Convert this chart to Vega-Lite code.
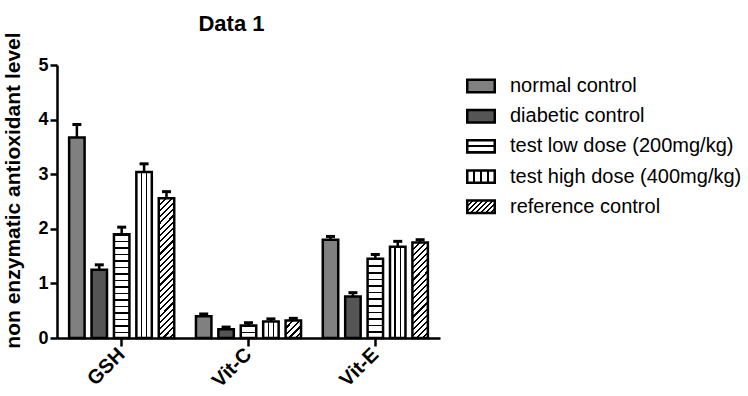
{
  "$schema": "https://vega.github.io/schema/vega-lite/v6.json",
  "width": 383,
  "height": 273,
  "autosize": {"type": "none"},
  "padding": {"left": 57, "top": 65, "right": 308, "bottom": 58},
  "background": "white",
  "config": {"view": {"stroke": null}, "font": "Liberation Sans"},
  "title": {"text": "Data 1", "fontSize": 22, "fontWeight": "bold", "font": "Liberation Sans", "anchor": "middle", "dx": -17, "offset": -4, "color": "black"},
  "data": {"values": [
    {"cat": "GSH", "series": "normal control", "mean": 3.67, "upper": 3.91},
    {"cat": "GSH", "series": "diabetic control", "mean": 1.25, "upper": 1.34},
    {"cat": "GSH", "series": "test low dose (200mg/kg)", "mean": 1.90, "upper": 2.03},
    {"cat": "GSH", "series": "test high dose (400mg/kg)", "mean": 3.04, "upper": 3.19},
    {"cat": "GSH", "series": "reference control", "mean": 2.56, "upper": 2.68},
    {"cat": "Vit-C", "series": "normal control", "mean": 0.40, "upper": 0.44},
    {"cat": "Vit-C", "series": "diabetic control", "mean": 0.16, "upper": 0.20},
    {"cat": "Vit-C", "series": "test low dose (200mg/kg)", "mean": 0.23, "upper": 0.28},
    {"cat": "Vit-C", "series": "test high dose (400mg/kg)", "mean": 0.30, "upper": 0.35},
    {"cat": "Vit-C", "series": "reference control", "mean": 0.32, "upper": 0.36},
    {"cat": "Vit-E", "series": "normal control", "mean": 1.80, "upper": 1.86},
    {"cat": "Vit-E", "series": "diabetic control", "mean": 0.76, "upper": 0.83},
    {"cat": "Vit-E", "series": "test low dose (200mg/kg)", "mean": 1.45, "upper": 1.53},
    {"cat": "Vit-E", "series": "test high dose (400mg/kg)", "mean": 1.67, "upper": 1.77},
    {"cat": "Vit-E", "series": "reference control", "mean": 1.75, "upper": 1.80}
  ]},
  "encoding": {
    "x": {
      "field": "cat", "type": "nominal", "sort": ["GSH", "Vit-C", "Vit-E"],
      "scale": {"paddingInner": 0, "paddingOuter": 0.01},
      "axis": {
        "title": null, "grid": false,
        "domainColor": "black", "domainWidth": 2.5,
        "tickColor": "black", "tickWidth": 2.5, "tickSize": 8,
        "labelAngle": -45, "labelAlign": "right", "labelBaseline": "middle",
        "labelFont": "Liberation Sans", "labelFontSize": 20, "labelFontWeight": "bold", "labelColor": "black", "labelPadding": 5
      }
    },
    "xOffset": {
      "field": "series", "type": "nominal",
      "sort": ["normal control", "diabetic control", "test low dose (200mg/kg)", "test high dose (400mg/kg)", "reference control"],
      "scale": {"paddingInner": 0.31, "paddingOuter": 0.485}
    }
  },
  "layer": [
    {
      "mark": {"type": "bar", "stroke": "black", "strokeWidth": 2.5, "opacity": 1},
      "encoding": {
        "y": {
          "field": "mean", "type": "quantitative", "title": "non enzymatic antioxidant level",
          "scale": {"domain": [0, 5], "nice": false},
          "axis": {
            "values": [0, 1, 2, 3, 4, 5], "grid": false,
            "domainColor": "black", "domainWidth": 2.5,
            "tickColor": "black", "tickWidth": 2.5, "tickSize": 7,
            "labelFont": "Liberation Sans", "labelFontSize": 18, "labelFontWeight": "bold", "labelColor": "black", "labelPadding": 2,
            "labelFlush": false, "labelOverlap": false,
            "titleFont": "Liberation Sans", "titleFontSize": 21, "titleFontWeight": "bold", "titleColor": "black", "titlePadding": 14, "titleY": 125
          }
        },
        "fill": {
          "field": "series", "type": "nominal",
          "scale": {
            "domain": ["normal control", "diabetic control", "test low dose (200mg/kg)", "test high dose (400mg/kg)", "reference control"],
            "range": [
              "#808080",
              "#555555",
              {"expr": "{gradient: 'linear', x1: 0, y1: 0, x2: 0, y2: 1, stops: [{offset: 0, color: '#000'}, {offset: 0.1, color: '#000'}, {offset: 0.1, color: '#fff'}, {offset: 0.4, color: '#fff'}, {offset: 0.4, color: '#000'}, {offset: 0.57, color: '#000'}, {offset: 0.57, color: '#fff'}, {offset: 0.9, color: '#fff'}, {offset: 0.9, color: '#000'}, {offset: 1, color: '#000'}]}"},
              {"expr": "{gradient: 'linear', x1: 0, y1: 0, x2: 1, y2: 0, stops: [{offset: 0, color: '#fff'}, {offset: 0.215, color: '#fff'}, {offset: 0.215, color: '#000'}, {offset: 0.285, color: '#000'}, {offset: 0.285, color: '#fff'}, {offset: 0.465, color: '#fff'}, {offset: 0.465, color: '#000'}, {offset: 0.535, color: '#000'}, {offset: 0.535, color: '#fff'}, {offset: 0.715, color: '#fff'}, {offset: 0.715, color: '#000'}, {offset: 0.785, color: '#000'}, {offset: 0.785, color: '#fff'}, {offset: 1, color: '#fff'}]}"},
              {"expr": "{gradient: 'linear', x1: 0, y1: 0, x2: 1.2055, y2: 0.548, stops: [{offset: 0, color: '#000'}, {offset: 0.044, color: '#000'}, {offset: 0.044, color: '#fff'}, {offset: 0.125, color: '#fff'}, {offset: 0.125, color: '#000'}, {offset: 0.169, color: '#000'}, {offset: 0.169, color: '#fff'}, {offset: 0.25, color: '#fff'}, {offset: 0.25, color: '#000'}, {offset: 0.294, color: '#000'}, {offset: 0.294, color: '#fff'}, {offset: 0.375, color: '#fff'}, {offset: 0.375, color: '#000'}, {offset: 0.419, color: '#000'}, {offset: 0.419, color: '#fff'}, {offset: 0.5, color: '#fff'}, {offset: 0.5, color: '#000'}, {offset: 0.544, color: '#000'}, {offset: 0.544, color: '#fff'}, {offset: 0.625, color: '#fff'}, {offset: 0.625, color: '#000'}, {offset: 0.669, color: '#000'}, {offset: 0.669, color: '#fff'}, {offset: 0.75, color: '#fff'}, {offset: 0.75, color: '#000'}, {offset: 0.794, color: '#000'}, {offset: 0.794, color: '#fff'}, {offset: 0.875, color: '#fff'}, {offset: 0.875, color: '#000'}, {offset: 0.919, color: '#000'}, {offset: 0.919, color: '#fff'}, {offset: 1, color: '#fff'}]}"}
            ]
          },
          "legend": {
            "title": null, "orient": "none", "legendX": 409, "legendY": 6, "padding": 0,
            "symbolType": "M-1,-0.45H1V0.45H-1Z", "symbolSize": 756,
            "symbolStrokeWidth": 2.5, "symbolOpacity": 1,
            "labelFont": "Liberation Sans", "labelFontSize": 20, "labelColor": "black", "labelLimit": 400,
            "labelOffset": 14, "rowPadding": 3.2
          },
          "condition": [
            {"test": "datum.series === 'test low dose (200mg/kg)' && datum.cat === 'GSH'",
             "value": {"gradient": "linear", "x1": 0, "y1": 0, "x2": 0, "y2": 1, "stops": [
              {"offset": 0, "color": "#000"}, {"offset": 0.015, "color": "#000"}, {"offset": 0.015, "color": "#fff"}, {"offset": 0.0625, "color": "#fff"},
              {"offset": 0.0625, "color": "#000"}, {"offset": 0.0775, "color": "#000"}, {"offset": 0.0775, "color": "#fff"}, {"offset": 0.125, "color": "#fff"},
              {"offset": 0.125, "color": "#000"}, {"offset": 0.14, "color": "#000"}, {"offset": 0.14, "color": "#fff"}, {"offset": 0.1875, "color": "#fff"},
              {"offset": 0.1875, "color": "#000"}, {"offset": 0.2025, "color": "#000"}, {"offset": 0.2025, "color": "#fff"}, {"offset": 0.25, "color": "#fff"},
              {"offset": 0.25, "color": "#000"}, {"offset": 0.265, "color": "#000"}, {"offset": 0.265, "color": "#fff"}, {"offset": 0.3125, "color": "#fff"},
              {"offset": 0.3125, "color": "#000"}, {"offset": 0.3275, "color": "#000"}, {"offset": 0.3275, "color": "#fff"}, {"offset": 0.375, "color": "#fff"},
              {"offset": 0.375, "color": "#000"}, {"offset": 0.39, "color": "#000"}, {"offset": 0.39, "color": "#fff"}, {"offset": 0.4375, "color": "#fff"},
              {"offset": 0.4375, "color": "#000"}, {"offset": 0.4525, "color": "#000"}, {"offset": 0.4525, "color": "#fff"}, {"offset": 0.5, "color": "#fff"},
              {"offset": 0.5, "color": "#000"}, {"offset": 0.515, "color": "#000"}, {"offset": 0.515, "color": "#fff"}, {"offset": 0.5625, "color": "#fff"},
              {"offset": 0.5625, "color": "#000"}, {"offset": 0.5775, "color": "#000"}, {"offset": 0.5775, "color": "#fff"}, {"offset": 0.625, "color": "#fff"},
              {"offset": 0.625, "color": "#000"}, {"offset": 0.64, "color": "#000"}, {"offset": 0.64, "color": "#fff"}, {"offset": 0.6875, "color": "#fff"},
              {"offset": 0.6875, "color": "#000"}, {"offset": 0.7025, "color": "#000"}, {"offset": 0.7025, "color": "#fff"}, {"offset": 0.75, "color": "#fff"},
              {"offset": 0.75, "color": "#000"}, {"offset": 0.765, "color": "#000"}, {"offset": 0.765, "color": "#fff"}, {"offset": 0.8125, "color": "#fff"},
              {"offset": 0.8125, "color": "#000"}, {"offset": 0.8275, "color": "#000"}, {"offset": 0.8275, "color": "#fff"}, {"offset": 0.875, "color": "#fff"},
              {"offset": 0.875, "color": "#000"}, {"offset": 0.89, "color": "#000"}, {"offset": 0.89, "color": "#fff"}, {"offset": 0.9375, "color": "#fff"},
              {"offset": 0.9375, "color": "#000"}, {"offset": 0.9525, "color": "#000"}, {"offset": 0.9525, "color": "#fff"}, {"offset": 1, "color": "#fff"}]}},
            {"test": "datum.series === 'test low dose (200mg/kg)' && datum.cat === 'Vit-C'",
             "value": {"gradient": "linear", "x1": 0, "y1": 0, "x2": 0, "y2": 1, "stops": [
              {"offset": 0, "color": "#000"}, {"offset": 0.12, "color": "#000"}, {"offset": 0.12, "color": "#fff"}, {"offset": 0.5, "color": "#fff"},
              {"offset": 0.5, "color": "#000"}, {"offset": 0.62, "color": "#000"}, {"offset": 0.62, "color": "#fff"}, {"offset": 1, "color": "#fff"}]}},
            {"test": "datum.series === 'test low dose (200mg/kg)' && datum.cat === 'Vit-E'",
             "value": {"gradient": "linear", "x1": 0, "y1": 0, "x2": 0, "y2": 1, "stops": [
              {"offset": 0, "color": "#000"}, {"offset": 0.019, "color": "#000"}, {"offset": 0.019, "color": "#fff"}, {"offset": 0.0833, "color": "#fff"},
              {"offset": 0.0833, "color": "#000"}, {"offset": 0.1023, "color": "#000"}, {"offset": 0.1023, "color": "#fff"}, {"offset": 0.1667, "color": "#fff"},
              {"offset": 0.1667, "color": "#000"}, {"offset": 0.1857, "color": "#000"}, {"offset": 0.1857, "color": "#fff"}, {"offset": 0.25, "color": "#fff"},
              {"offset": 0.25, "color": "#000"}, {"offset": 0.269, "color": "#000"}, {"offset": 0.269, "color": "#fff"}, {"offset": 0.3333, "color": "#fff"},
              {"offset": 0.3333, "color": "#000"}, {"offset": 0.3523, "color": "#000"}, {"offset": 0.3523, "color": "#fff"}, {"offset": 0.4167, "color": "#fff"},
              {"offset": 0.4167, "color": "#000"}, {"offset": 0.4357, "color": "#000"}, {"offset": 0.4357, "color": "#fff"}, {"offset": 0.5, "color": "#fff"},
              {"offset": 0.5, "color": "#000"}, {"offset": 0.519, "color": "#000"}, {"offset": 0.519, "color": "#fff"}, {"offset": 0.5833, "color": "#fff"},
              {"offset": 0.5833, "color": "#000"}, {"offset": 0.6023, "color": "#000"}, {"offset": 0.6023, "color": "#fff"}, {"offset": 0.6667, "color": "#fff"},
              {"offset": 0.6667, "color": "#000"}, {"offset": 0.6857, "color": "#000"}, {"offset": 0.6857, "color": "#fff"}, {"offset": 0.75, "color": "#fff"},
              {"offset": 0.75, "color": "#000"}, {"offset": 0.769, "color": "#000"}, {"offset": 0.769, "color": "#fff"}, {"offset": 0.8333, "color": "#fff"},
              {"offset": 0.8333, "color": "#000"}, {"offset": 0.8523, "color": "#000"}, {"offset": 0.8523, "color": "#fff"}, {"offset": 0.9167, "color": "#fff"},
              {"offset": 0.9167, "color": "#000"}, {"offset": 0.9357, "color": "#000"}, {"offset": 0.9357, "color": "#fff"}, {"offset": 1, "color": "#fff"}]}},
            {"test": "datum.series === 'reference control' && datum.cat === 'GSH'",
             "value": {"gradient": "linear", "x1": 0, "y1": 0, "x2": 0.122, "y2": 1.0976, "stops": [
              {"offset": 0, "color": "#000"}, {"offset": 0.014, "color": "#000"}, {"offset": 0.014, "color": "#fff"}, {"offset": 0.04, "color": "#fff"},
              {"offset": 0.04, "color": "#000"}, {"offset": 0.054, "color": "#000"}, {"offset": 0.054, "color": "#fff"}, {"offset": 0.08, "color": "#fff"},
              {"offset": 0.08, "color": "#000"}, {"offset": 0.094, "color": "#000"}, {"offset": 0.094, "color": "#fff"}, {"offset": 0.12, "color": "#fff"},
              {"offset": 0.12, "color": "#000"}, {"offset": 0.134, "color": "#000"}, {"offset": 0.134, "color": "#fff"}, {"offset": 0.16, "color": "#fff"},
              {"offset": 0.16, "color": "#000"}, {"offset": 0.174, "color": "#000"}, {"offset": 0.174, "color": "#fff"}, {"offset": 0.2, "color": "#fff"},
              {"offset": 0.2, "color": "#000"}, {"offset": 0.214, "color": "#000"}, {"offset": 0.214, "color": "#fff"}, {"offset": 0.24, "color": "#fff"},
              {"offset": 0.24, "color": "#000"}, {"offset": 0.254, "color": "#000"}, {"offset": 0.254, "color": "#fff"}, {"offset": 0.28, "color": "#fff"},
              {"offset": 0.28, "color": "#000"}, {"offset": 0.294, "color": "#000"}, {"offset": 0.294, "color": "#fff"}, {"offset": 0.32, "color": "#fff"},
              {"offset": 0.32, "color": "#000"}, {"offset": 0.334, "color": "#000"}, {"offset": 0.334, "color": "#fff"}, {"offset": 0.36, "color": "#fff"},
              {"offset": 0.36, "color": "#000"}, {"offset": 0.374, "color": "#000"}, {"offset": 0.374, "color": "#fff"}, {"offset": 0.4, "color": "#fff"},
              {"offset": 0.4, "color": "#000"}, {"offset": 0.414, "color": "#000"}, {"offset": 0.414, "color": "#fff"}, {"offset": 0.44, "color": "#fff"},
              {"offset": 0.44, "color": "#000"}, {"offset": 0.454, "color": "#000"}, {"offset": 0.454, "color": "#fff"}, {"offset": 0.48, "color": "#fff"},
              {"offset": 0.48, "color": "#000"}, {"offset": 0.494, "color": "#000"}, {"offset": 0.494, "color": "#fff"}, {"offset": 0.52, "color": "#fff"},
              {"offset": 0.52, "color": "#000"}, {"offset": 0.534, "color": "#000"}, {"offset": 0.534, "color": "#fff"}, {"offset": 0.56, "color": "#fff"},
              {"offset": 0.56, "color": "#000"}, {"offset": 0.574, "color": "#000"}, {"offset": 0.574, "color": "#fff"}, {"offset": 0.6, "color": "#fff"},
              {"offset": 0.6, "color": "#000"}, {"offset": 0.614, "color": "#000"}, {"offset": 0.614, "color": "#fff"}, {"offset": 0.64, "color": "#fff"},
              {"offset": 0.64, "color": "#000"}, {"offset": 0.654, "color": "#000"}, {"offset": 0.654, "color": "#fff"}, {"offset": 0.68, "color": "#fff"},
              {"offset": 0.68, "color": "#000"}, {"offset": 0.694, "color": "#000"}, {"offset": 0.694, "color": "#fff"}, {"offset": 0.72, "color": "#fff"},
              {"offset": 0.72, "color": "#000"}, {"offset": 0.734, "color": "#000"}, {"offset": 0.734, "color": "#fff"}, {"offset": 0.76, "color": "#fff"},
              {"offset": 0.76, "color": "#000"}, {"offset": 0.774, "color": "#000"}, {"offset": 0.774, "color": "#fff"}, {"offset": 0.8, "color": "#fff"},
              {"offset": 0.8, "color": "#000"}, {"offset": 0.814, "color": "#000"}, {"offset": 0.814, "color": "#fff"}, {"offset": 0.84, "color": "#fff"},
              {"offset": 0.84, "color": "#000"}, {"offset": 0.854, "color": "#000"}, {"offset": 0.854, "color": "#fff"}, {"offset": 0.88, "color": "#fff"},
              {"offset": 0.88, "color": "#000"}, {"offset": 0.894, "color": "#000"}, {"offset": 0.894, "color": "#fff"}, {"offset": 0.92, "color": "#fff"},
              {"offset": 0.92, "color": "#000"}, {"offset": 0.934, "color": "#000"}, {"offset": 0.934, "color": "#fff"}, {"offset": 0.96, "color": "#fff"},
              {"offset": 0.96, "color": "#000"}, {"offset": 0.974, "color": "#000"}, {"offset": 0.974, "color": "#fff"}, {"offset": 1, "color": "#fff"}]}},
            {"test": "datum.series === 'reference control' && datum.cat === 'Vit-C'",
             "value": {"gradient": "linear", "x1": 0, "y1": 0, "x2": 0.939, "y2": 1.054, "stops": [
              {"offset": 0, "color": "#000"}, {"offset": 0.07, "color": "#000"}, {"offset": 0.07, "color": "#fff"}, {"offset": 0.2, "color": "#fff"},
              {"offset": 0.2, "color": "#000"}, {"offset": 0.27, "color": "#000"}, {"offset": 0.27, "color": "#fff"}, {"offset": 0.4, "color": "#fff"},
              {"offset": 0.4, "color": "#000"}, {"offset": 0.47, "color": "#000"}, {"offset": 0.47, "color": "#fff"}, {"offset": 0.6, "color": "#fff"},
              {"offset": 0.6, "color": "#000"}, {"offset": 0.67, "color": "#000"}, {"offset": 0.67, "color": "#fff"}, {"offset": 0.8, "color": "#fff"},
              {"offset": 0.8, "color": "#000"}, {"offset": 0.87, "color": "#000"}, {"offset": 0.87, "color": "#fff"}, {"offset": 1, "color": "#fff"}]}},
            {"test": "datum.series === 'reference control' && datum.cat === 'Vit-E'",
             "value": {"gradient": "linear", "x1": 0, "y1": 0, "x2": 0.184, "y2": 1.1326, "stops": [
              {"offset": 0, "color": "#000"}, {"offset": 0.0194, "color": "#000"}, {"offset": 0.0194, "color": "#fff"}, {"offset": 0.0556, "color": "#fff"},
              {"offset": 0.0556, "color": "#000"}, {"offset": 0.075, "color": "#000"}, {"offset": 0.075, "color": "#fff"}, {"offset": 0.1111, "color": "#fff"},
              {"offset": 0.1111, "color": "#000"}, {"offset": 0.1305, "color": "#000"}, {"offset": 0.1305, "color": "#fff"}, {"offset": 0.1667, "color": "#fff"},
              {"offset": 0.1667, "color": "#000"}, {"offset": 0.1861, "color": "#000"}, {"offset": 0.1861, "color": "#fff"}, {"offset": 0.2222, "color": "#fff"},
              {"offset": 0.2222, "color": "#000"}, {"offset": 0.2416, "color": "#000"}, {"offset": 0.2416, "color": "#fff"}, {"offset": 0.2778, "color": "#fff"},
              {"offset": 0.2778, "color": "#000"}, {"offset": 0.2972, "color": "#000"}, {"offset": 0.2972, "color": "#fff"}, {"offset": 0.3333, "color": "#fff"},
              {"offset": 0.3333, "color": "#000"}, {"offset": 0.3527, "color": "#000"}, {"offset": 0.3527, "color": "#fff"}, {"offset": 0.3889, "color": "#fff"},
              {"offset": 0.3889, "color": "#000"}, {"offset": 0.4083, "color": "#000"}, {"offset": 0.4083, "color": "#fff"}, {"offset": 0.4444, "color": "#fff"},
              {"offset": 0.4444, "color": "#000"}, {"offset": 0.4638, "color": "#000"}, {"offset": 0.4638, "color": "#fff"}, {"offset": 0.5, "color": "#fff"},
              {"offset": 0.5, "color": "#000"}, {"offset": 0.5194, "color": "#000"}, {"offset": 0.5194, "color": "#fff"}, {"offset": 0.5556, "color": "#fff"},
              {"offset": 0.5556, "color": "#000"}, {"offset": 0.575, "color": "#000"}, {"offset": 0.575, "color": "#fff"}, {"offset": 0.6111, "color": "#fff"},
              {"offset": 0.6111, "color": "#000"}, {"offset": 0.6305, "color": "#000"}, {"offset": 0.6305, "color": "#fff"}, {"offset": 0.6667, "color": "#fff"},
              {"offset": 0.6667, "color": "#000"}, {"offset": 0.6861, "color": "#000"}, {"offset": 0.6861, "color": "#fff"}, {"offset": 0.7222, "color": "#fff"},
              {"offset": 0.7222, "color": "#000"}, {"offset": 0.7416, "color": "#000"}, {"offset": 0.7416, "color": "#fff"}, {"offset": 0.7778, "color": "#fff"},
              {"offset": 0.7778, "color": "#000"}, {"offset": 0.7972, "color": "#000"}, {"offset": 0.7972, "color": "#fff"}, {"offset": 0.8333, "color": "#fff"},
              {"offset": 0.8333, "color": "#000"}, {"offset": 0.8527, "color": "#000"}, {"offset": 0.8527, "color": "#fff"}, {"offset": 0.8889, "color": "#fff"},
              {"offset": 0.8889, "color": "#000"}, {"offset": 0.9083, "color": "#000"}, {"offset": 0.9083, "color": "#fff"}, {"offset": 0.9444, "color": "#fff"},
              {"offset": 0.9444, "color": "#000"}, {"offset": 0.9638, "color": "#000"}, {"offset": 0.9638, "color": "#fff"}, {"offset": 1, "color": "#fff"}]}},
            {"test": "datum.series === 'test high dose (400mg/kg)'",
             "value": {"gradient": "linear", "x1": 0, "y1": 0, "x2": 1, "y2": 0, "stops": [
              {"offset": 0, "color": "#fff"}, {"offset": 0.29, "color": "#fff"}, {"offset": 0.29, "color": "#000"}, {"offset": 0.38, "color": "#000"},
              {"offset": 0.38, "color": "#fff"}, {"offset": 0.62, "color": "#fff"}, {"offset": 0.62, "color": "#000"}, {"offset": 0.71, "color": "#000"},
              {"offset": 0.71, "color": "#fff"}, {"offset": 1, "color": "#fff"}]}}
          ]
        }
      }
    },
    {
      "mark": {"type": "rule", "color": "black", "strokeWidth": 2.5},
      "encoding": {
        "y": {"field": "mean", "type": "quantitative", "title": "non enzymatic antioxidant level"},
        "y2": {"field": "upper"}
      }
    },
    {
      "mark": {"type": "tick", "color": "black", "thickness": 3, "size": 9, "orient": "horizontal", "opacity": 1},
      "encoding": {
        "y": {"field": "upper", "type": "quantitative", "title": "non enzymatic antioxidant level"}
      }
    }
  ]
}
